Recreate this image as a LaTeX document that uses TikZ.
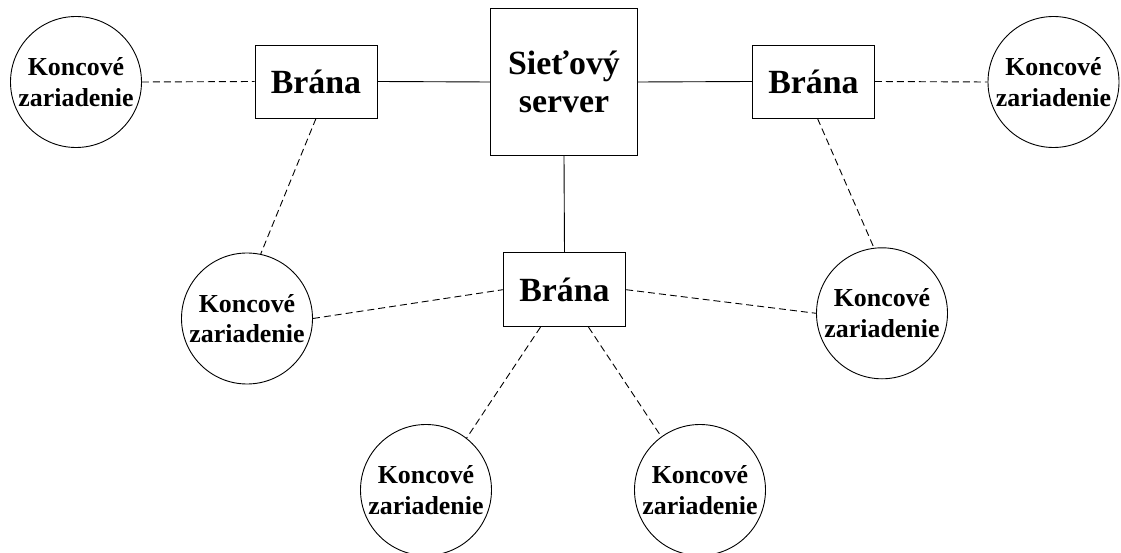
\documentclass[tikz,border=0pt]{standalone}
\usepackage{fontspec}
\setmainfont{Liberation Serif}
\usetikzlibrary{calc}
\tikzset{
  box/.style={draw, line width=0.9bp, inner sep=0pt, font=\bfseries\fontsize{34}{38}\selectfont, align=center},
  device/.style={draw, circle, line width=0.9bp, minimum size=131bp, inner sep=0pt, font=\bfseries\fontsize{26}{30.5}\selectfont, align=center},
  link/.style={line width=0.9bp},
  wireless/.style={line width=0.9bp, dash pattern=on 7bp off 4bp},
}
\begin{document}
\begin{tikzpicture}[x=1bp, y=-1bp]
\useasboundingbox (0,0) rectangle (1121,553);
% network server and gateways
\node[box, minimum width=146.5bp, minimum height=147bp] (srv) at (564,82) {Sieťový\\server};
\node[box, minimum width=122bp, minimum height=73bp] (gl) at (316,81.5) {Brána};
\node[box, minimum width=122bp, minimum height=73bp] (gr) at (813.5,81.5) {Brána};
\node[box, minimum width=122.4bp, minimum height=74bp] (gb) at (564.5,289.7) {Brána};
% end devices
\node[device] (d1) at (76,82) {Koncové\\zariadenie};
\node[device] (d2) at (1053.5,82) {Koncové\\zariadenie};
\node[device] (d3) at (247,318.5) {Koncové\\zariadenie};
\node[device] (d4) at (882,313.3) {Koncové\\zariadenie};
\node[device] (d5) at (426,490) {Koncové\\zariadenie};
\node[device] (d6) at (700,490) {Koncové\\zariadenie};
% backhaul links
\draw[link] (gl.east) -- (srv.west);
\draw[link] (srv.east) -- (gr.west);
\draw[link] (srv.south) -- (gb.north);
% radio links
\draw[wireless] (d1.east) -- (gl.west);
\draw[wireless] (gr.east) -- (d2.west);
\draw[wireless] (gl.south) -- (d3.78);
\draw[wireless] ($(gr.south)+(4,0)$) -- (d4.97);
\draw[wireless] (d3.east) -- (gb.west);
\draw[wireless] (gb.east) -- (d4.west);
\draw[wireless] ($(gb.south)+(-24,0)$) -- (d5.52);
\draw[wireless] ($(gb.south)+(24,0)$) -- (d6.126);
\end{tikzpicture}
\end{document}
